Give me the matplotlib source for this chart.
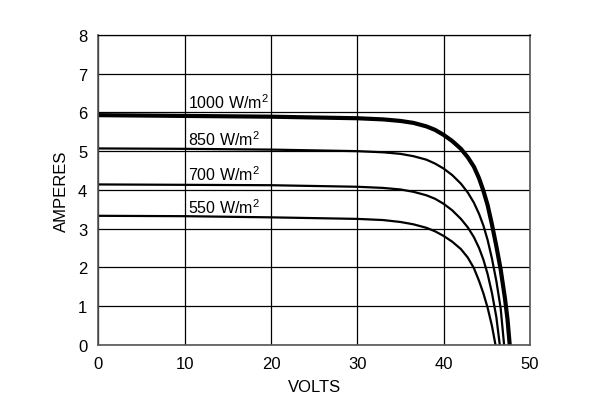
import numpy as np
import matplotlib
matplotlib.use("Agg")
import matplotlib.pyplot as plt

plt.rcParams['font.family'] = ['Liberation Sans', 'DejaVu Sans']
plt.rcParams['mathtext.fontset'] = 'custom'
plt.rcParams['mathtext.rm'] = 'Liberation Sans'

# I-V curves (volts, amperes)
v1000 = [0, 10, 20, 30, 33, 35, 36.5, 38, 39, 40, 41, 42, 42.8, 43.5, 44.1, 44.6, 45.1, 45.6, 46.1, 46.6, 47.1, 47.4, 47.65]
i1000 = [5.93, 5.91, 5.89, 5.85, 5.82, 5.78, 5.73, 5.64, 5.55, 5.42, 5.26, 5.06, 4.84, 4.6, 4.3, 3.98, 3.6, 3.1, 2.55, 1.95, 1.2, 0.65, 0]
v850 = [0, 10, 20, 30, 33, 35, 36.5, 38, 39, 40, 41, 42, 42.8, 43.5, 44.1, 44.6, 45.1, 45.6, 46.1, 46.6, 47.0]
i850 = [5.07, 5.06, 5.04, 5.0, 4.97, 4.93, 4.87, 4.78, 4.68, 4.55, 4.38, 4.16, 3.93, 3.67, 3.38, 3.08, 2.7, 2.22, 1.65, 0.95, 0]
v700 = [0, 10, 20, 30, 33, 35, 36.5, 38, 39, 40, 41, 42, 42.8, 43.5, 44.1, 44.6, 45.1, 45.6, 46.1, 46.5]
i700 = [4.14, 4.13, 4.12, 4.08, 4.05, 4.01, 3.95, 3.86, 3.77, 3.64, 3.47, 3.25, 3.03, 2.78, 2.5, 2.2, 1.82, 1.33, 0.72, 0]
v550 = [0, 10, 20, 30, 33, 35, 36.5, 38, 39, 40, 41, 42, 42.8, 43.5, 44.1, 44.6, 45.1, 45.6, 46.0]
i550 = [3.33, 3.32, 3.29, 3.25, 3.22, 3.17, 3.11, 3.02, 2.93, 2.81, 2.66, 2.47, 2.25, 1.98, 1.65, 1.33, 0.95, 0.48, 0]

curve_labels = ["1000 W/m$^2$", "850 W/m$^2$", "700 W/m$^2$", "550 W/m$^2$"]
label_y = [6.29, 5.33, 4.42, 3.56]

fig = plt.figure(figsize=(6, 4.06), dpi=100)
ax = fig.add_axes([0.1638, 0.1485, 0.7195, 0.7628])

ax.plot(v1000, i1000, color='black', lw=3.0)
ax.plot(v850, i850, color='black', lw=1.6)
ax.plot(v700, i700, color='black', lw=1.6)
ax.plot(v550, i550, color='black', lw=1.6)

for txt, y in zip(curve_labels, label_y):
    ax.text(10.4, y, txt, fontsize=11.5, va='center', ha='left')

ax.set_xlim(0, 50)
ax.set_ylim(0, 8)
ax.set_xticks(range(0, 51, 10))
ax.set_yticks(range(0, 9))
ax.grid(True, color='black', lw=0.9)
ax.tick_params(length=0, labelsize=12, pad=8)
for s in ax.spines.values():
    s.set_color('#555555')
    s.set_linewidth(1.2)
ax.spines['top'].set_color('black')
ax.spines['top'].set_linewidth(0.9)

ax.set_xlabel("VOLTS", fontsize=12, labelpad=6)
ax.set_ylabel("AMPERES", fontsize=12, labelpad=6)

fig.savefig("out.png", dpi=100)
